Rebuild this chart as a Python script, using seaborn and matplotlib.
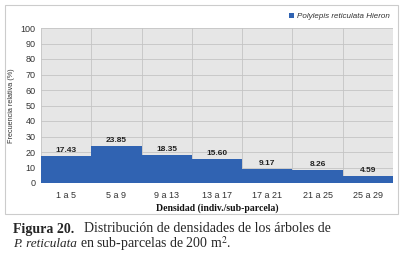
import numpy as np
import pandas as pd
import matplotlib.pyplot as plt
import seaborn as sns
from matplotlib.patches import Rectangle

categorias = ['1 a 5', '5 a 9', '9 a 13', '13 a 17', '17 a 21', '21 a 25', '25 a 29']
frecuencia = [17.43, 23.85, 18.35, 15.60, 9.17, 8.26, 4.59]
serie = 'Polylepis reticulata Hieron'

df = pd.DataFrame({'clase': categorias, 'frec': frecuencia, 'serie': serie})

sns.set_theme(style='white')
plt.rcParams['font.family'] = ['Liberation Sans', 'DejaVu Sans']

fig = plt.figure(figsize=(4.02, 2.58), dpi=100)
ax = fig.add_axes([41/402, 1 - 183/258, 352/402, 155/258])
ax.set_facecolor('#e6e6e6')
ax.set_axisbelow(True)

blue = '#3063b2'
sns.barplot(data=df, x='clase', y='frec', hue='serie', palette=[blue],
            saturation=1, width=1.0, ax=ax, edgecolor='none', linewidth=0)

for i, v in enumerate(frecuencia):
    ax.text(i, v + 1.2, '{:.2f}'.format(v), ha='center', va='bottom',
            fontsize=6, fontweight='bold', color='#222222')

ax.set_ylim(0, 100)
ax.set_xlim(-0.5, len(categorias) - 0.5)
ax.set_yticks(np.arange(0, 101, 10))
ax.set_xticks(np.arange(len(categorias)), categorias)
ax.set_xticks(np.arange(len(categorias) + 1) - 0.5, minor=True)
ax.grid(axis='y', which='major', color='#c4c4c4', lw=0.6)
ax.grid(axis='x', which='minor', color='#c4c4c4', lw=0.6)
ax.tick_params(axis='both', which='both', length=0, labelsize=6.5, colors='#333333')
ax.tick_params(axis='x', pad=6)
ax.tick_params(axis='y', pad=4)
for s in ax.spines.values():
    s.set_visible(False)

ax.set_xlabel('Densidad (indiv./sub-parcela)', family='Liberation Serif',
              fontweight='bold', fontsize=7, labelpad=2, color='#111111')
ax.set_ylabel('Frecuencia relativa (%)', fontsize=5.2, labelpad=4, color='#333333')

leg = ax.legend(loc='lower right', bbox_to_anchor=(1.0, 1.03), frameon=False,
                fontsize=5.8, handlelength=0.6, handleheight=0.6, handletextpad=0.4,
                borderaxespad=0)
for t in leg.get_texts():
    t.set_style('italic')
    t.set_color('#333333')

fig.patches.append(Rectangle((5/402, 1 - 214/258), 393/402, 209/258,
                             transform=fig.transFigure, fill=False,
                             edgecolor='#cccccc', lw=0.8))

fig.text(13/402, 1 - 229/258, 'Figura 20.', family='Liberation Serif',
         fontsize=10, va='center', fontweight='bold')
fig.text(84/402, 1 - 229/258, 'Distribución de densidades de los árboles de',
         family='Liberation Serif', fontsize=10, va='center')
t_it = fig.text(13/402, 1 - 244/258, 'P. reticulata', family='Liberation Serif',
                fontsize=9.5, va='center', style='italic')
r = fig.canvas.get_renderer()
x_end = t_it.get_window_extent(r).x1 / fig.bbox.width
fig.text(x_end + 3.5/402, 1 - 244/258, r'en sub-parcelas de 200 m$^2$.',
         family='Liberation Serif', fontsize=10, va='center', math_fontfamily='stix')

fig.savefig('out.png', dpi=100)
